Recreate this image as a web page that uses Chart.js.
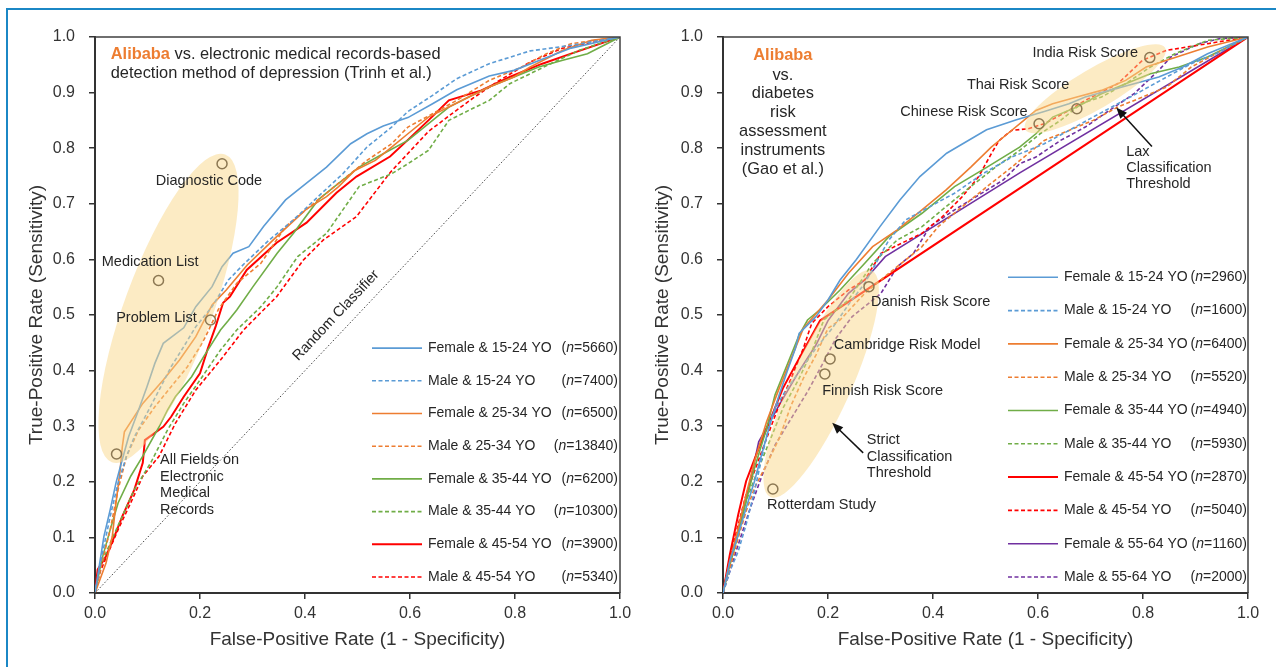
<!DOCTYPE html>
<html lang="en">
<head>
<meta charset="UTF-8">
<title>ROC curves</title>
<script src="https://cdn.jsdelivr.net/npm/chart.js@4.4.0/dist/chart.umd.min.js"></script>
<style>
  body { margin: 0; background: #fff; }
  #frame { position: absolute; left: 6px; top: 8px; width: 1300px; height: 700px;
           border-top: 2px solid #1b87c5; border-left: 2px solid #1b87c5; }
  canvas { position: absolute; top: 0; }
</style>
</head>
<body>
<div id="frame"></div>
<canvas id="left" width="640" height="667" style="left:0px"></canvas>
<canvas id="right" width="636" height="667" style="left:640px"></canvas>
<script>
// ---- data: [false-positive rate, true-positive rate] ----
// left panel: depression (Trinh et al.)
const L_F1524 = [[0,0],[.009,.054],[.017,.102],[.029,.150],[.040,.198],[.052,.240],[.064,.281],[.083,.329],[.099,.371],[.114,.413],[.130,.449],[.169,.477],[.192,.515],[.223,.551],[.242,.587],[.263,.611],[.293,.623],[.321,.659],[.363,.707],[.441,.766],[.487,.808],[.518,.826],[.549,.840],[.596,.855],[.643,.880],[.689,.905],[.751,.930],[.798,.940],[.852,.960],[.907,.980],[1,1]];
const L_M1524 = [[0,0],[.013,.066],[.029,.138],[.044,.198],[.060,.246],[.075,.281],[.099,.323],[.122,.365],[.145,.407],[.169,.443],[.192,.479],[.223,.515],[.254,.563],[.285,.593],[.332,.635],[.378,.671],[.425,.713],[.472,.754],[.518,.802],[.565,.838],[.596,.866],[.643,.895],[.689,.925],[.751,.952],[.829,.975],[.907,.985],[1,1]];
const L_F2534 = [[0,0],[.021,.054],[.033,.102],[.040,.162],[.048,.222],[.052,.263],[.056,.290],[.091,.341],[.130,.383],[.161,.419],[.192,.461],[.223,.518],[.250,.545],[.290,.590],[.346,.641],[.402,.690],[.441,.713],[.464,.731],[.495,.760],[.534,.778],[.565,.802],[.596,.826],[.635,.856],[.674,.874],[.712,.892],[.751,.910],[.798,.928],[.829,.946],[.891,.976],[.946,.994],[1,1]];
const L_M2534 = [[0,0],[.013,.054],[.029,.114],[.044,.186],[.060,.246],[.083,.293],[.114,.335],[.145,.371],[.176,.407],[.200,.443],[.210,.460],[.235,.510],[.270,.557],[.316,.593],[.363,.659],[.409,.695],[.464,.737],[.518,.778],[.565,.808],[.596,.838],[.643,.862],[.689,.886],[.751,.922],[.813,.946],[.860,.970],[.907,.988],[1,1]];
const L_F3544 = [[0,0],[.013,.060],[.029,.114],[.044,.162],[.068,.210],[.091,.246],[.122,.299],[.138,.329],[.153,.353],[.184,.389],[.207,.425],[.239,.473],[.254,.490],[.270,.509],[.301,.551],[.347,.611],[.378,.647],[.425,.707],[.456,.731],[.503,.766],[.549,.790],[.596,.814],[.643,.850],[.674,.874],[.712,.892],[.751,.910],[.798,.928],[.845,.946],[.891,.958],[.938,.970],[1,1]];
const L_M3544 = [[0,0],[.013,.054],[.029,.090],[.052,.138],[.075,.186],[.106,.234],[.138,.293],[.169,.341],[.200,.383],[.239,.437],[.270,.473],[.316,.515],[.347,.551],[.386,.605],[.441,.647],[.503,.731],[.565,.754],[.596,.772],[.635,.796],[.674,.850],[.712,.868],[.751,.886],[.790,.916],[.829,.934],[.868,.952],[.922,.976],[1,1]];
const L_F4554 = [[0,0],[.005,.042],[.021,.066],[.037,.102],[.052,.138],[.075,.186],[.091,.234],[.095,.275],[.130,.299],[.145,.317],[.169,.353],[.200,.395],[.215,.440],[.230,.480],[.244,.522],[.257,.533],[.289,.581],[.346,.630],[.403,.666],[.460,.720],[.498,.749],[.562,.785],[.596,.815],[.635,.850],[.674,.886],[.736,.904],[.790,.928],[.852,.952],[.907,.970],[1,1]];
const L_M4554 = [[0,0],[.009,.036],[.025,.072],[.044,.114],[.068,.162],[.091,.210],[.122,.246],[.153,.305],[.192,.365],[.239,.419],[.283,.473],[.346,.533],[.397,.599],[.435,.635],[.498,.677],[.562,.756],[.635,.830],[.674,.858],[.720,.890],[.767,.920],[.829,.955],[.891,.980],[1,1]];

// right panel: diabetes (Gao et al.)
const R_F1524 = [[0,0],[.013,.057],[.029,.105],[.044,.153],[.060,.201],[.075,.254],[.091,.308],[.107,.356],[.122,.398],[.138,.440],[.145,.467],[.177,.497],[.200,.527],[.223,.563],[.254,.600],[.299,.659],[.337,.707],[.375,.749],[.426,.791],[.502,.833],[.559,.851],[.612,.866],[.659,.880],[.690,.892],[.736,.904],[.783,.916],[.830,.928],[.876,.946],[.923,.970],[1,1]];
const R_M1524 = [[0,0],[.013,.039],[.029,.075],[.044,.123],[.060,.183],[.075,.248],[.091,.314],[.114,.356],[.145,.398],[.177,.440],[.208,.476],[.240,.520],[.270,.557],[.316,.635],[.348,.671],[.394,.695],[.441,.719],[.495,.754],[.550,.784],[.612,.808],[.659,.832],[.705,.856],[.752,.880],[.799,.904],[.845,.928],[.892,.952],[.939,.970],[1,1]];
const R_F2534 = [[0,0],[.013,.057],[.029,.117],[.044,.177],[.060,.237],[.083,.308],[.107,.368],[.130,.422],[.153,.476],[.200,.527],[.239,.575],[.285,.623],[.332,.653],[.379,.689],[.425,.725],[.472,.766],[.511,.802],[.542,.826],[.573,.850],[.596,.868],[.628,.880],[.674,.892],[.721,.904],[.767,.922],[.806,.946],[.845,.958],[.923,.982],[1,1]];
const R_M2534 = [[0,0],[.013,.045],[.029,.099],[.044,.147],[.060,.189],[.083,.231],[.107,.278],[.130,.338],[.153,.386],[.177,.428],[.200,.476],[.223,.491],[.270,.539],[.316,.575],[.348,.599],[.379,.623],[.410,.659],[.456,.695],[.503,.731],[.550,.766],[.581,.790],[.612,.814],[.659,.832],[.705,.850],[.752,.874],[.799,.892],[.845,.910],[.892,.946],[.939,.970],[1,1]];
const R_F3544 = [[0,0],[.013,.050],[.029,.105],[.044,.165],[.060,.225],[.083,.296],[.099,.356],[.122,.410],[.145,.464],[.161,.491],[.184,.509],[.223,.545],[.270,.593],[.316,.641],[.379,.683],[.441,.731],[.503,.766],[.565,.802],[.596,.826],[.628,.856],[.674,.874],[.721,.898],[.767,.916],[.814,.934],[.869,.946],[.923,.964],[1,1]];
const R_M3544 = [[0,0],[.013,.050],[.029,.111],[.044,.165],[.068,.225],[.091,.278],[.114,.332],[.145,.386],[.169,.434],[.192,.491],[.239,.527],[.285,.593],[.332,.635],[.379,.659],[.425,.695],[.472,.731],[.519,.766],[.565,.796],[.604,.826],[.643,.850],[.682,.880],[.721,.892],[.767,.916],[.814,.946],[.861,.970],[.923,.994],[1,1]];
const R_F4554 = [[0,0],[.013,.069],[.029,.141],[.044,.201],[.068,.260],[.091,.314],[.114,.368],[.145,.422],[.185,.490],[1,1]];
const R_M4554 = [[0,0],[.013,.063],[.029,.123],[.044,.177],[.060,.219],[.083,.278],[.107,.338],[.130,.386],[.153,.440],[.169,.485],[.200,.515],[.239,.545],[.270,.563],[.301,.611],[.340,.629],[.379,.647],[.418,.677],[.456,.713],[.487,.749],[.511,.790],[.526,.814],[.550,.832],[.581,.835],[.612,.844],[.659,.868],[.690,.886],[.752,.916],[.799,.958],[.845,.976],[.923,.988],[1,1]];
const R_F5564 = [[0,0],[.013,.057],[.037,.141],[.052,.201],[.068,.272],[.107,.338],[.145,.399],[.177,.446],[.200,.490],[.239,.539],[.270,.563],[.309,.605],[.566,.756],[1,1]];
const R_M5564 = [[0,0],[.029,.087],[.052,.153],[.075,.213],[.099,.266],[.130,.314],[.161,.362],[.192,.416],[.215,.458],[.246,.497],[.301,.539],[.332,.587],[.363,.611],[.394,.659],[.441,.689],[.472,.707],[.534,.743],[.565,.772],[.596,.784],[.643,.814],[.690,.838],[.736,.868],[.783,.898],[.830,.940],[.853,.964],[.907,.988],[.946,.997],[1,1]];

const L_labels = ['Female & 15-24 YO','Male & 15-24 YO','Female & 25-34 YO','Male & 25-34 YO','Female & 35-44 YO','Male & 35-44 YO','Female & 45-54 YO','Male & 45-54 YO'];
const L_n = ['5660','7400','6500','13840','6200','10300','3900','5340'];
const R_labels = ['Female & 15-24 YO','Male & 15-24 YO','Female & 25-34 YO','Male & 25-34 YO','Female & 35-44 YO','Male & 35-44 YO','Female & 45-54 YO','Male & 45-54 YO','Female & 55-64 YO','Male & 55-64 YO'];
const R_n = ['2960','1600','6400','5520','4940','5930','2870','5040','1160','2000'];

// comparison methods (circles)
const L_methods = [[.242,.772],[.121,.562],[.220,.491],[.041,.250]];
const R_methods = [[.813,.963],[.674,.871],[.602,.844],[.278,.551],[.204,.421],[.194,.394],[.095,.187]];

const RANDOM = [[0,0],[1,1]];
const X_TICKS = [0, .2, .4, .6, .8, 1];
const Y_TICKS = [0, .1, .2, .3, .4, .5, .6, .7, .8, .9, 1];

// ---- styling ----
const FONT = '"Liberation Sans", Arial, sans-serif';
const INK = '#262626';
const BLUE = '#5B9BD5', ORANGE = '#ED7D31', GREEN = '#70AD47', RED = '#FF0000', PURPLE = '#7030A0';
const DASH = [4, 2.5];

Chart.defaults.font.family = FONT;
Chart.defaults.color = '#333';

function curve(label, data, color, dashed) {
  return { label, data, borderColor: color, backgroundColor: color,
    borderWidth: color === RED && !dashed ? 2 : 1.6, borderDash: dashed ? DASH : [],
    showLine: true, pointRadius: 0, tension: 0 };
}
function circles(data) {
  return { label: 'methods', data, showLine: false, pointStyle: 'circle', pointRadius: 5,
    borderColor: '#8c7853', borderWidth: 1.5, backgroundColor: 'rgba(0,0,0,0)' };
}

function axes(yWidth, yTitlePad) {
  return {
    x: { type: 'linear', min: 0, max: 1,
      afterBuildTicks: s => { s.ticks = X_TICKS.map(v => ({ value: v })); },
      ticks: { callback: v => v.toFixed(1), color: '#333', font: { size: 16 }, padding: 5, maxRotation: 0 },
      grid: { display: true, drawOnChartArea: false, tickLength: 6, color: '#333', lineWidth: 1.5 },
      border: { display: true, color: '#333', width: 2 },
      title: { display: true, text: 'False-Positive Rate (1 - Specificity)', color: '#333',
        font: { size: 19 }, padding: { top: 0, bottom: 16 } },
      afterFit: s => { s.height = 74; } },
    y: { type: 'linear', min: 0, max: 1,
      afterBuildTicks: s => { s.ticks = Y_TICKS.map(v => ({ value: v })); },
      ticks: { callback: v => v.toFixed(1), color: '#333', font: { size: 16 }, padding: 14 },
      grid: { display: true, drawOnChartArea: false, tickLength: 6, color: '#333', lineWidth: 1.5 },
      border: { display: true, color: '#333', width: 2 },
      title: { display: true, text: 'True-Positive Rate (Sensitivity)', color: '#333',
        font: { size: 19 }, padding: { top: yTitlePad, bottom: 0 } },
      afterFit: s => { s.width = yWidth; } }
  };
}

// decorations: ellipses, texts, arrows, legend, box
function decor(cfg) {
  return {
    id: 'decor',
    beforeDatasetDraw(chart, args) {
      if (args.index !== 0) return;
      const { ctx, scales: { x, y } } = chart;
      ctx.save();
      ctx.fillStyle = 'rgba(250,216,138,0.5)';
      cfg.ellipses.forEach(e => {
        ctx.beginPath();
        ctx.ellipse(x.getPixelForValue(e.cx), y.getPixelForValue(e.cy), e.rx, e.ry, e.rot * Math.PI / 180, 0, Math.PI * 2);
        ctx.fill();
      });
      ctx.restore();
    },
    afterDraw(chart) {
      const { ctx, chartArea: a, scales: { x, y } } = chart;
      ctx.save();
      // top and right frame
      ctx.strokeStyle = '#404040'; ctx.lineWidth = 1.5;
      ctx.beginPath();
      ctx.moveTo(a.left, a.top); ctx.lineTo(a.right, a.top); ctx.lineTo(a.right, a.bottom);
      ctx.stroke();

      ctx.fillStyle = INK; ctx.textBaseline = 'middle';
      cfg.texts.forEach(t => {
        ctx.font = (t.bold ? 'bold ' : '') + t.size + 'px ' + FONT;
        ctx.fillStyle = t.color || INK;
        ctx.textAlign = t.align || 'left';
        let px = x.getPixelForValue(t.x), py = y.getPixelForValue(t.y);
        if (t.rotate) {
          const ang = Math.atan2(y.getPixelForValue(1) - y.getPixelForValue(0), x.getPixelForValue(1) - x.getPixelForValue(0));
          ctx.save(); ctx.translate(px, py); ctx.rotate(ang); ctx.fillText(t.t, 0, 0); ctx.restore();
        } else if (t.lead) {
          // orange bold "Alibaba" followed by regular text
          ctx.textAlign = 'left';
          ctx.font = 'bold ' + t.size + 'px ' + FONT; ctx.fillStyle = ORANGE;
          ctx.fillText(t.lead, px, py);
          const w = ctx.measureText(t.lead).width;
          ctx.font = t.size + 'px ' + FONT; ctx.fillStyle = INK;
          ctx.fillText(t.t, px + w, py);
        } else {
          ctx.fillText(t.t, px, py);
        }
      });

      ctx.strokeStyle = '#111'; ctx.fillStyle = '#111'; ctx.lineWidth = 1.5;
      cfg.arrows.forEach(r => {
        const x0 = x.getPixelForValue(r.from[0]), y0 = y.getPixelForValue(r.from[1]);
        const x1 = x.getPixelForValue(r.to[0]), y1 = y.getPixelForValue(r.to[1]);
        const ang = Math.atan2(y1 - y0, x1 - x0), L = 11, W = 4.5;
        ctx.beginPath(); ctx.moveTo(x0, y0);
        ctx.lineTo(x1 - Math.cos(ang) * L * 0.8, y1 - Math.sin(ang) * L * 0.8); ctx.stroke();
        ctx.beginPath(); ctx.moveTo(x1, y1);
        ctx.lineTo(x1 - Math.cos(ang) * L - Math.sin(ang) * W, y1 - Math.sin(ang) * L + Math.cos(ang) * W);
        ctx.lineTo(x1 - Math.cos(ang) * L + Math.sin(ang) * W, y1 - Math.sin(ang) * L - Math.cos(ang) * W);
        ctx.closePath(); ctx.fill();
      });

      // legend
      const lg = cfg.legend;
      const rows = chart.data.datasets.filter(d => d.legend);
      rows.forEach((d, i) => {
        const yy = a.bottom - 16 - (rows.length - 1 - i) * lg.gap;
        ctx.strokeStyle = d.borderColor; ctx.lineWidth = d.borderWidth;
        ctx.setLineDash(d.borderDash);
        ctx.beginPath(); ctx.moveTo(a.right - lg.line0, yy); ctx.lineTo(a.right - lg.line1, yy); ctx.stroke();
        ctx.setLineDash([]);
        ctx.fillStyle = INK; ctx.textBaseline = 'middle'; ctx.textAlign = 'left';
        ctx.font = lg.size + 'px ' + FONT;
        ctx.fillText(d.label, a.right - lg.text0, yy);
        // "(n=xxxx)" right aligned, n italic
        const tail = '=' + d.n + ')';
        const wTail = ctx.measureText(tail).width, wOpen = ctx.measureText('(').width;
        ctx.font = 'italic ' + lg.size + 'px ' + FONT;
        const wN = ctx.measureText('n').width;
        const xe = a.right - lg.endPad;
        ctx.font = lg.size + 'px ' + FONT;
        ctx.fillText(tail, xe - wTail, yy);
        ctx.fillText('(', xe - wTail - wN - wOpen, yy);
        ctx.font = 'italic ' + lg.size + 'px ' + FONT;
        ctx.fillText('n', xe - wTail - wN, yy);
      });
      ctx.restore();
    }
  };
}

function build(canvasId, curves, labels, ns, methods, extra, yWidth, yTitlePad, rightPad, cfg) {
  const datasets = [circles(methods)];
  extra.forEach(d => datasets.push(d));
  curves.forEach((c, i) => {
    const d = curve(labels[i], c[0], c[1], c[2]);
    d.legend = true; d.n = ns[i];
    datasets.push(d);
  });
  new Chart(document.getElementById(canvasId), {
    type: 'scatter',
    data: { datasets },
    options: {
      responsive: false, animation: false, events: [],
      layout: { padding: { top: 37, right: rightPad, left: 0, bottom: 0 } },
      plugins: { legend: { display: false }, tooltip: { enabled: false } },
      scales: axes(yWidth, yTitlePad)
    },
    plugins: [decor(cfg)]
  });
}

const TXT = 14.5, TITLE = 16.4, LEG = 14;

build('left',
  [[L_F1524, BLUE, false], [L_M1524, BLUE, true], [L_F2534, ORANGE, false], [L_M2534, ORANGE, true],
   [L_F3544, GREEN, false], [L_M3544, GREEN, true], [L_F4554, RED, false], [L_M4554, RED, true]],
  L_labels, L_n, L_methods,
  [{ label: 'random', data: RANDOM, showLine: true, pointRadius: 0, borderColor: '#444', borderWidth: 1, borderDash: [1.5, 2] }],
  95, 25, 20,
  {
    ellipses: [{ cx: .140, cy: .512, rx: 164, ry: 44, rot: -69.8 }],
    texts: [
      { lead: 'Alibaba', t: ' vs. electronic medical records-based', x: .030, y: .968, size: TITLE },
      { t: 'detection method of depression (Trinh et al.)', x: .030, y: .934, size: TITLE },
      { t: 'Diagnostic Code', x: .217, y: .741, size: TXT, align: 'center' },
      { t: 'Medication List', x: .105, y: .595, size: TXT, align: 'center' },
      { t: 'Problem List', x: .117, y: .494, size: TXT, align: 'center' },
      { t: 'All Fields on', x: .124, y: .239, size: TXT },
      { t: 'Electronic', x: .124, y: .209, size: TXT },
      { t: 'Medical', x: .124, y: .180, size: TXT },
      { t: 'Records', x: .124, y: .149, size: TXT },
      { t: 'Random Classifier', x: .459, y: .499, size: TXT, align: 'center', rotate: true }
    ],
    arrows: [],
    legend: { gap: 32.7, line0: 248, line1: 198, text0: 192, endPad: 2, size: LEG }
  });

build('right',
  [[R_F1524, BLUE, false], [R_M1524, BLUE, true], [R_F2534, ORANGE, false], [R_M2534, ORANGE, true],
   [R_F3544, GREEN, false], [R_M3544, GREEN, true], [R_F4554, RED, false], [R_M4554, RED, true],
   [R_F5564, PURPLE, false], [R_M5564, PURPLE, true]],
  R_labels, R_n, R_methods, [],
  83, 11, 28,
  {
    ellipses: [{ cx: .187, cy: .376, rx: 124, ry: 30, rot: -65.8 },
               { cx: .709, cy: .907, rx: 81, ry: 20, rot: -30.4 }],
    texts: [
      { t: 'Alibaba', x: .114, y: .967, size: TITLE, align: 'center', bold: true, color: ORANGE },
      { t: 'vs.', x: .114, y: .931, size: TITLE, align: 'center' },
      { t: 'diabetes', x: .114, y: .898, size: TITLE, align: 'center' },
      { t: 'risk', x: .114, y: .864, size: TITLE, align: 'center' },
      { t: 'assessment', x: .114, y: .830, size: TITLE, align: 'center' },
      { t: 'instruments', x: .114, y: .796, size: TITLE, align: 'center' },
      { t: '(Gao et al.)', x: .114, y: .761, size: TITLE, align: 'center' },
      { t: 'India Risk Score', x: .690, y: .972, size: TXT, align: 'center' },
      { t: 'Thai Risk Score', x: .562, y: .914, size: TXT, align: 'center' },
      { t: 'Chinese Risk Score', x: .459, y: .866, size: TXT, align: 'center' },
      { t: 'Danish Risk Score', x: .282, y: .524, size: TXT },
      { t: 'Cambridge Risk Model', x: .211, y: .446, size: TXT },
      { t: 'Finnish Risk Score', x: .189, y: .364, size: TXT },
      { t: 'Strict', x: .274, y: .275, size: TXT },
      { t: 'Classification', x: .274, y: .245, size: TXT },
      { t: 'Threshold', x: .274, y: .216, size: TXT },
      { t: 'Rotterdam Study', x: .084, y: .158, size: TXT },
      { t: 'Lax', x: .768, y: .794, size: TXT },
      { t: 'Classification', x: .768, y: .765, size: TXT },
      { t: 'Threshold', x: .768, y: .736, size: TXT }
    ],
    arrows: [{ from: [.267, .252], to: [.208, .306] }, { from: [.817, .803], to: [.749, .873] }],
    legend: { gap: 33.3, line0: 240, line1: 190, text0: 184, endPad: 1, size: LEG }
  });
</script>
</body>
</html>
